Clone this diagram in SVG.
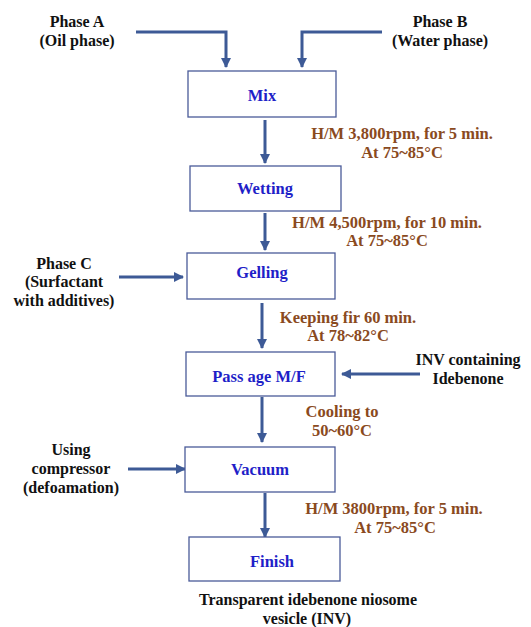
<svg xmlns="http://www.w3.org/2000/svg" width="531" height="627" viewBox="0 0 531 627">
<style>
.box{fill:#fff;stroke:#4a5b99;stroke-width:1.3}
text{font-family:'Liberation Serif','Times New Roman',serif;font-weight:bold;text-anchor:middle}
.nt{font-size:16.5px;fill:#1f1fc8}
.lb{font-size:16px;fill:#111}
.an{font-size:16.5px;fill:#8a4a1e}
.ar{fill:none;stroke:#3d5a96;stroke-width:3;marker-end:url(#ah)}
</style>
<defs>
<marker id="ah" viewBox="0 0 10 10" refX="9" refY="5" markerWidth="3.4" markerHeight="3.4" orient="auto" markerUnits="strokeWidth">
<path d="M0,0 L10,5 L0,10 z" fill="#3d5a96"/>
</marker>
</defs>
<rect width="531" height="627" fill="#fff"/>
<g id="connectors">
<path class="ar" d="M136,32 H226 V67"/>
<path class="ar" d="M382,32 H302 V67"/>
<path class="ar" d="M265,120 V163"/>
<path class="ar" d="M265,213 V250"/>
<path class="ar" d="M119,277 H183"/>
<path class="ar" d="M262,303 V348"/>
<path class="ar" d="M420,374 H342"/>
<path class="ar" d="M262,397 V442"/>
<path class="ar" d="M128,469 H185"/>
<path class="ar" d="M265,493 V537"/>
</g>
<g id="phaseA"><text class="lb" x="77" y="27" font-family="Liberation Serif">Phase A</text><text class="lb" x="77" y="46" font-family="Liberation Serif">(Oil phase)</text></g>
<g id="phaseB"><text class="lb" x="440" y="27">Phase B</text><text class="lb" x="440" y="46">(Water phase)</text></g>
<g id="mix"><rect class="box" x="188" y="71" width="148" height="46"/><text class="nt" x="262" y="101">Mix</text></g>
<g id="ann1"><text class="an" x="402" y="139">H/M 3,800rpm, for 5 min.</text><text class="an" x="402" y="158">At 75~85°C</text></g>
<g id="wetting"><rect class="box" x="190" y="166" width="151" height="45"/><text class="nt" x="265" y="194">Wetting</text></g>
<g id="ann2"><text class="an" x="387" y="228">H/M 4,500rpm, for 10 min.</text><text class="an" x="387" y="246">At 75~85°C</text></g>
<g id="phaseC"><text class="lb" x="64" y="269">Phase C</text><text class="lb" x="64" y="287">(Surfactant</text><text class="lb" x="64" y="306">with additives)</text></g>
<g id="gelling"><rect class="box" x="187" y="253" width="148" height="46"/><text class="nt" x="262" y="278">Gelling</text></g>
<g id="ann3"><text class="an" x="348" y="323">Keeping fir 60 min.</text><text class="an" x="348" y="341">At 78~82°C</text></g>
<g id="passage"><rect class="box" x="186" y="352" width="149" height="44"/><text class="nt" x="259" y="382">Pass age M/F</text></g>
<g id="inv"><text class="lb" x="468" y="365">INV containing</text><text class="lb" x="468" y="384">Idebenone</text></g>
<g id="ann4"><text class="an" x="342" y="417">Cooling to</text><text class="an" x="342" y="436">50~60°C</text></g>
<g id="using"><text class="lb" x="71" y="455">Using</text><text class="lb" x="71" y="474">compressor</text><text class="lb" x="71" y="493">(defoamation)</text></g>
<g id="vacuum"><rect class="box" x="185" y="447" width="150" height="45"/><text class="nt" x="260" y="475">Vacuum</text></g>
<g id="ann5"><text class="an" x="394" y="514">H/M 3800rpm, for 5 min.</text><text class="an" x="395" y="533">At 75~85°C</text></g>
<g id="finish"><rect class="box" x="189" y="537" width="151" height="44"/><text class="nt" x="272" y="567">Finish</text></g>
<g id="output"><text class="lb" x="308" y="605">Transparent idebenone niosome</text><text class="lb" x="307" y="624">vesicle (INV)</text></g>
</svg>
